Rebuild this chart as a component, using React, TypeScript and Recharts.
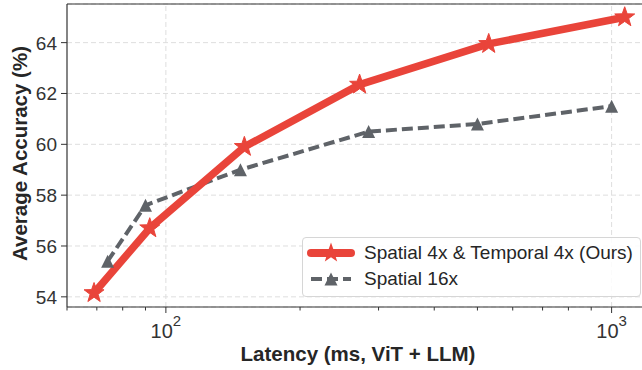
import { LineChart, Line, XAxis, YAxis, CartesianGrid, ReferenceLine, Legend } from 'recharts';

const oursLatency = [69, 92, 150, 272, 530, 1070];
const oursAccuracy = [54.15, 56.7, 59.9, 62.35, 63.95, 65.0];

const spatialLatency = [74, 90, 147, 285, 500, 1000];
const spatialAccuracy = [55.4, 57.6, 59.0, 60.5, 60.8, 61.5];

const xTicks = [60, 70, 80, 90, 100, 200, 300, 400, 500, 600, 700, 800, 900, 1000];
const yTicks = [54, 56, 58, 60, 62, 64];

const RED = '#E9443A';
const GRAY = '#5F6368';
const FONT = '"Liberation Sans", Arial, sans-serif';

const oursData = oursLatency.map((latency, i) => ({ latency, acc: oursAccuracy[i] }));
const spatialData = spatialLatency.map((latency, i) => ({ latency, acc: spatialAccuracy[i] }));

function starPath(cx: number, cy: number, R: number, r: number) {
  let d = '';
  for (let i = 0; i < 10; i++) {
    const rad = i % 2 === 0 ? R : r;
    const a = -Math.PI / 2 + (i * Math.PI) / 5;
    d += (i === 0 ? 'M' : 'L') + (cx + rad * Math.cos(a)).toFixed(2) + ',' + (cy + rad * Math.sin(a)).toFixed(2);
  }
  return d + 'Z';
}

const StarDot = (props: any) => {
  const { cx, cy } = props;
  if (cx == null || cy == null) return null;
  return <path d={starPath(cx, cy, 10.5, 4.2)} fill={RED} stroke={RED} strokeWidth={1} />;
};

const TriDot = (props: any) => {
  const { cx, cy } = props;
  if (cx == null || cy == null) return null;
  return <path d={`M${cx},${cy - 6.5}L${cx - 6.5},${cy + 6.5}L${cx + 6.5},${cy + 6.5}Z`} fill={GRAY} />;
};

const XTick = (props: any) => {
  const { x, y, payload } = props;
  const v = payload.value;
  const major = v === 100 || v === 1000;
  return (
    <g>
      <line x1={x} x2={x} y1={y} y2={y + (major ? 6 : 3.5)} stroke="#333" strokeWidth={1} />
      {major && (
        <text x={x} y={y + 30.5} textAnchor="middle" fontFamily={FONT} fontSize={20} fill="#333">
          <tspan>10</tspan>
          <tspan dy={-11.5} fontSize={15}>{v === 100 ? '2' : '3'}</tspan>
        </text>
      )}
    </g>
  );
};

const YTick = (props: any) => {
  const { x, y, payload } = props;
  return (
    <g>
      <line x1={x} x2={x - 6} y1={y} y2={y} stroke="#333" strokeWidth={1} />
      <text x={x - 10} y={y + 7} textAnchor="end" fontFamily={FONT} fontSize={19} fill="#333">
        {payload.value}
      </text>
    </g>
  );
};

const XLabel = () => (
  <text x={358} y={361} textAnchor="middle" fontFamily={FONT} fontSize={20.5} fontWeight="bold" fill="#262626">
    Latency (ms, ViT + LLM)
  </text>
);

const YLabel = () => (
  <text
    x={26.5}
    y={153.5}
    transform="rotate(-90, 26.5, 153.5)"
    textAnchor="middle"
    fontFamily={FONT}
    fontSize={20.5}
    fontWeight="bold"
    fill="#262626"
  >
    Average Accuracy (%)
  </text>
);

const LegendBox = () => (
  <div
    style={{
      border: '1px solid #d6d6d6',
      borderRadius: 4,
      background: 'rgba(255,255,255,0.85)',
      boxSizing: 'border-box',
      height: 60,
      paddingTop: 2,
      fontFamily: FONT,
      fontSize: 19,
      color: '#262626',
    }}
  >
    <div style={{ display: 'flex', alignItems: 'center', height: 26 }}>
      <svg width={52} height={24} style={{ marginLeft: 2 }}>
        <line x1={6} x2={46} y1={12} y2={12} stroke={RED} strokeWidth={8} strokeLinecap="round" />
        <path d={starPath(26, 12, 10.5, 4.2)} fill={RED} />
      </svg>
      <span style={{ marginLeft: 7 }}>Spatial 4x &amp; Temporal 4x (Ours)</span>
    </div>
    <div style={{ display: 'flex', alignItems: 'center', height: 26 }}>
      <svg width={52} height={24} style={{ marginLeft: 2 }}>
        <line x1={6} x2={46} y1={12} y2={12} stroke={GRAY} strokeWidth={4} strokeDasharray="11 5" />
        <path d="M26,5.5L19.5,18.5L32.5,18.5Z" fill={GRAY} />
      </svg>
      <span style={{ marginLeft: 7 }}>Spatial 16x</span>
    </div>
  </div>
);

export default function App() {
  return (
    <div style={{ position: 'absolute', left: 0, top: 0, background: '#fff' }}>
      <LineChart width={642} height={370} margin={{ top: 4, right: 0, bottom: 0, left: 0 }}>
        <CartesianGrid vertical={false} stroke="#dedede" strokeDasharray="5 3" />
        <ReferenceLine x={100} stroke="#dedede" strokeDasharray="5 3" />
        <ReferenceLine x={1000} stroke="#dedede" strokeDasharray="5 3" />
        <ReferenceLine y={65.52} stroke="#333" strokeWidth={1.2} />
        <XAxis
          dataKey="latency"
          type="number"
          scale="log"
          domain={[60, 1170]}
          allowDataOverflow
          ticks={xTicks}
          interval={0}
          height={63}
          tickSize={0}
          tickMargin={0}
          tickLine={false}
          tick={<XTick />}
          axisLine={{ stroke: '#333', strokeWidth: 1.2 }}
          label={{ content: <XLabel /> }}
        />
        <YAxis
          type="number"
          domain={[53.6, 65.52]}
          allowDataOverflow
          ticks={yTicks}
          interval={0}
          width={67}
          tickSize={0}
          tickMargin={0}
          tickLine={false}
          tick={<YTick />}
          axisLine={{ stroke: '#333', strokeWidth: 1.2 }}
          label={{ content: <YLabel /> }}
        />
        <Legend
          layout="horizontal"
          verticalAlign="middle"
          align="center"
          wrapperStyle={{ left: 302, top: 237, width: 339, height: 60 }}
          content={<LegendBox />}
        />
        <Line
          data={spatialData}
          dataKey="acc"
          stroke={GRAY}
          strokeWidth={4}
          strokeDasharray="11 5"
          dot={<TriDot />}
          activeDot={false}
          isAnimationActive={false}
        />
        <Line
          data={oursData}
          dataKey="acc"
          stroke={RED}
          strokeWidth={7.5}
          strokeLinejoin="round"
          strokeLinecap="round"
          dot={<StarDot />}
          activeDot={false}
          isAnimationActive={false}
        />
      </LineChart>
    </div>
  );
}
